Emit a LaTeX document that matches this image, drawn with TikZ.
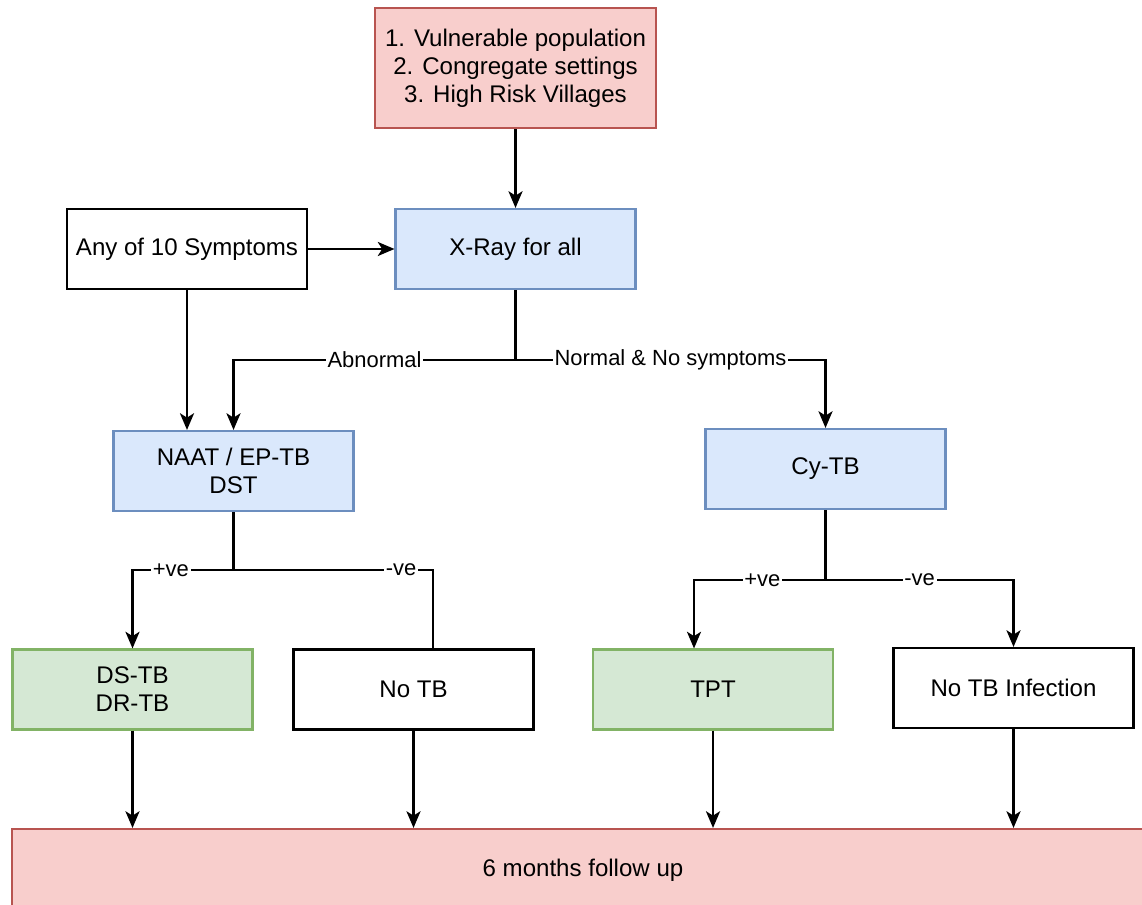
\documentclass[tikz,border=0pt]{standalone}
\usepackage{fontspec}
\setmainfont{Liberation Sans}
\usepackage{tikz}
\usetikzlibrary{arrows.meta, calc}

\definecolor{redfill}{HTML}{F8CECC}
\definecolor{redline}{HTML}{B85450}
\definecolor{bluefill}{HTML}{DAE8FC}
\definecolor{blueline}{HTML}{6C8EBF}
\definecolor{greenfill}{HTML}{D5E8D4}
\definecolor{greenline}{HTML}{82B366}

\begin{document}
\begin{tikzpicture}[x=0.02cm, y=-0.02cm,
  box/.style={draw, line width=1.2pt, minimum width=4.8cm, minimum height=1.6cm, align=center, inner sep=2pt, font=\fontsize{13.7}{16}\selectfont},
  whitebox/.style={box, fill=white, draw=black},
  redbox/.style={box, fill=redfill, draw=redline},
  bluebox/.style={box, fill=bluefill, draw=blueline},
  greenbox/.style={box, fill=greenfill, draw=greenline},
  line/.style={line width=1.3pt},
  arr/.style={line, -{Stealth[length=9.5pt, width=8pt, inset=2.5pt]}},
  lbl/.style={fill=white, inner sep=1pt, font=\fontsize{12.5}{15}\selectfont}]
\useasboundingbox (0,0) rectangle (1142,905);
\clip (0,0) rectangle (1142,905);
\node[redbox, minimum width=5.62cm, minimum height=2.4cm] (pop) at (515.5,68) {1. Vulnerable population\\2. Congregate settings\\3. High Risk Villages};
\node[whitebox] (sym) at (187,249) {Any of 10 Symptoms};
\node[bluebox] (xray) at (515.5,249) {X-Ray for all};
\node[bluebox] (naat) at (233.5,471) {NAAT / EP-TB\\DST};
\node[bluebox] (cytb) at (825.5,469) {Cy-TB};
\node[greenbox] (dstb) at (132.5,689.5) {DS-TB\\DR-TB};
\node[whitebox] (notb) at (413.5,689.5) {No TB};
\node[greenbox] (tpt) at (713,689.5) {TPT};
\node[whitebox] (notbi) at (1013.5,688) {No TB Infection};
\node[redbox, minimum width=22.84cm, minimum height=1.64cm] (fup) at (583,870) {6 months follow up};
\draw[arr] (pop.south) -- (xray.north);
\draw[arr] (sym.east) -- (xray.west);
\draw[arr] (sym.south) -- (sym.south |- naat.north);
\draw[line] (xray.south) -- ++(0,70) coordinate (xs);
\draw[arr] (xs) -| node[lbl, pos=0.25] {Abnormal} (naat.north);
\draw[arr] (xs) -| node[lbl, pos=0.25] {Normal \& No symptoms} (cytb.north);
\draw[line] (naat.south) -- ++(0,58) coordinate (ns);
\draw[arr] (ns) -| node[lbl, pos=0.31] {+ve} (dstb.north);
\draw[line] (ns) -| node[lbl, pos=0.42] {-ve} ($(notb.north)+(19.5,0)$);
\draw[line] (cytb.south) -- ++(0,70) coordinate (cs);
\draw[arr] (cs) -| node[lbl, pos=0.24] {+ve} ($(tpt.north)+(-19,0)$);
\draw[arr] (cs) -| node[lbl, pos=0.25] {-ve} (notbi.north);
\foreach \n in {dstb,notb,tpt,notbi}
  \draw[arr] (\n.south) -- (\n.south |- fup.north);
\end{tikzpicture}
\end{document}
